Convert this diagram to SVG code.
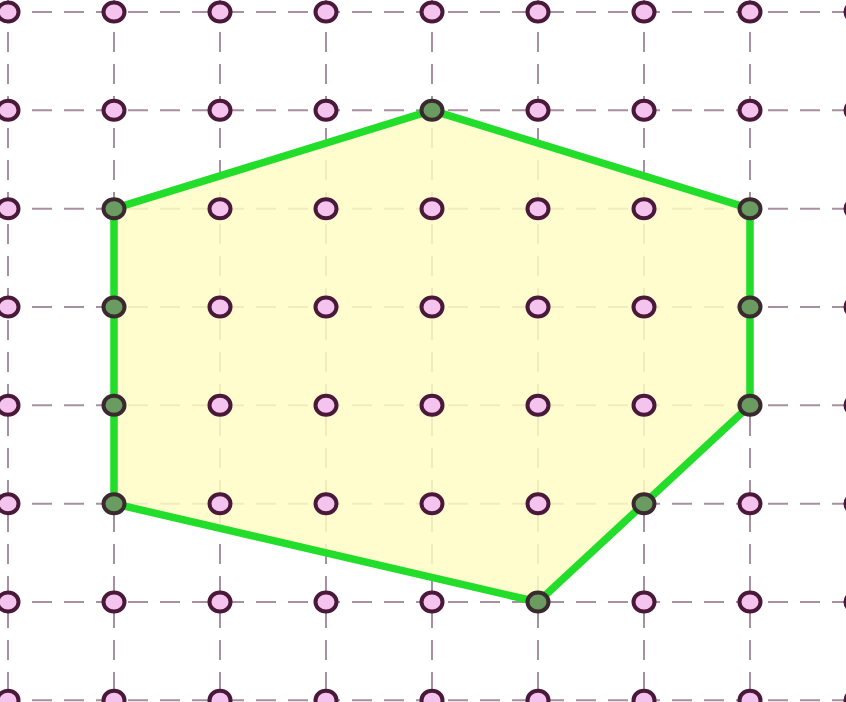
<svg xmlns="http://www.w3.org/2000/svg" width="846" height="702" viewBox="0 0 846 702">
<defs>
<style>
.g{stroke:#a8909e;stroke-width:2;stroke-dasharray:20 12;fill:none}
.p{fill:#f4c4ee;stroke:#4a1838;stroke-width:4}
.b{fill:#6a9c62;stroke:#3a2a30;stroke-width:4}
</style>
<ellipse id="pt" rx="10.5" ry="9.5"/>
</defs>
<rect width="846" height="702" fill="#ffffff"/>
<g id="grid">
<path class="g" d="M0 12H846M0 110.3H846M0 208.7H846M0 307H846M0 405.3H846M0 503.7H846M0 602H846M0 700.3H846"/>
<path class="g" d="M8 0V702M114 0V702M220 0V702M326 0V702M432 0V702M538 0V702M644 0V702M750 0V702"/>
</g>
<g id="polygon">
<polygon points="114,208.7 432,110.3 750,208.7 750,405.3 538,602 114,503.7" fill="#fffcc4" fill-opacity="0.85" stroke="none"/>
</g>
<g id="pegs">
<g class="p">
<use href="#pt" x="8" y="12"/><use href="#pt" x="114" y="12"/><use href="#pt" x="220" y="12"/><use href="#pt" x="326" y="12"/><use href="#pt" x="432" y="12"/><use href="#pt" x="538" y="12"/><use href="#pt" x="644" y="12"/><use href="#pt" x="750" y="12"/><use href="#pt" x="856" y="12"/>
<use href="#pt" x="8" y="110.3"/><use href="#pt" x="114" y="110.3"/><use href="#pt" x="220" y="110.3"/><use href="#pt" x="326" y="110.3"/><use href="#pt" x="538" y="110.3"/><use href="#pt" x="644" y="110.3"/><use href="#pt" x="750" y="110.3"/><use href="#pt" x="856" y="110.3"/>
<use href="#pt" x="8" y="208.7"/><use href="#pt" x="220" y="208.7"/><use href="#pt" x="326" y="208.7"/><use href="#pt" x="432" y="208.7"/><use href="#pt" x="538" y="208.7"/><use href="#pt" x="644" y="208.7"/><use href="#pt" x="856" y="208.7"/>
<use href="#pt" x="8" y="307"/><use href="#pt" x="220" y="307"/><use href="#pt" x="326" y="307"/><use href="#pt" x="432" y="307"/><use href="#pt" x="538" y="307"/><use href="#pt" x="644" y="307"/><use href="#pt" x="856" y="307"/>
<use href="#pt" x="8" y="405.3"/><use href="#pt" x="220" y="405.3"/><use href="#pt" x="326" y="405.3"/><use href="#pt" x="432" y="405.3"/><use href="#pt" x="538" y="405.3"/><use href="#pt" x="644" y="405.3"/><use href="#pt" x="856" y="405.3"/>
<use href="#pt" x="8" y="503.7"/><use href="#pt" x="220" y="503.7"/><use href="#pt" x="326" y="503.7"/><use href="#pt" x="432" y="503.7"/><use href="#pt" x="538" y="503.7"/><use href="#pt" x="750" y="503.7"/><use href="#pt" x="856" y="503.7"/>
<use href="#pt" x="8" y="602"/><use href="#pt" x="114" y="602"/><use href="#pt" x="220" y="602"/><use href="#pt" x="326" y="602"/><use href="#pt" x="432" y="602"/><use href="#pt" x="644" y="602"/><use href="#pt" x="750" y="602"/><use href="#pt" x="856" y="602"/>
<use href="#pt" x="8" y="700.3"/><use href="#pt" x="114" y="700.3"/><use href="#pt" x="220" y="700.3"/><use href="#pt" x="326" y="700.3"/><use href="#pt" x="432" y="700.3"/><use href="#pt" x="538" y="700.3"/><use href="#pt" x="644" y="700.3"/><use href="#pt" x="750" y="700.3"/><use href="#pt" x="856" y="700.3"/>
</g>
</g>
<g id="outline">
<polygon points="114,208.7 432,110.3 750,208.7 750,405.3 538,602 114,503.7" fill="none" stroke="#22dd2a" stroke-width="7.5" stroke-linejoin="round"/>
</g>
<g id="boundary-pegs" class="b">
<use href="#pt" x="432" y="110.3"/><use href="#pt" x="114" y="208.7"/><use href="#pt" x="750" y="208.7"/><use href="#pt" x="114" y="307"/><use href="#pt" x="750" y="307"/><use href="#pt" x="114" y="405.3"/><use href="#pt" x="750" y="405.3"/><use href="#pt" x="114" y="503.7"/><use href="#pt" x="644" y="503.7"/><use href="#pt" x="538" y="602"/>
</g>
</svg>
